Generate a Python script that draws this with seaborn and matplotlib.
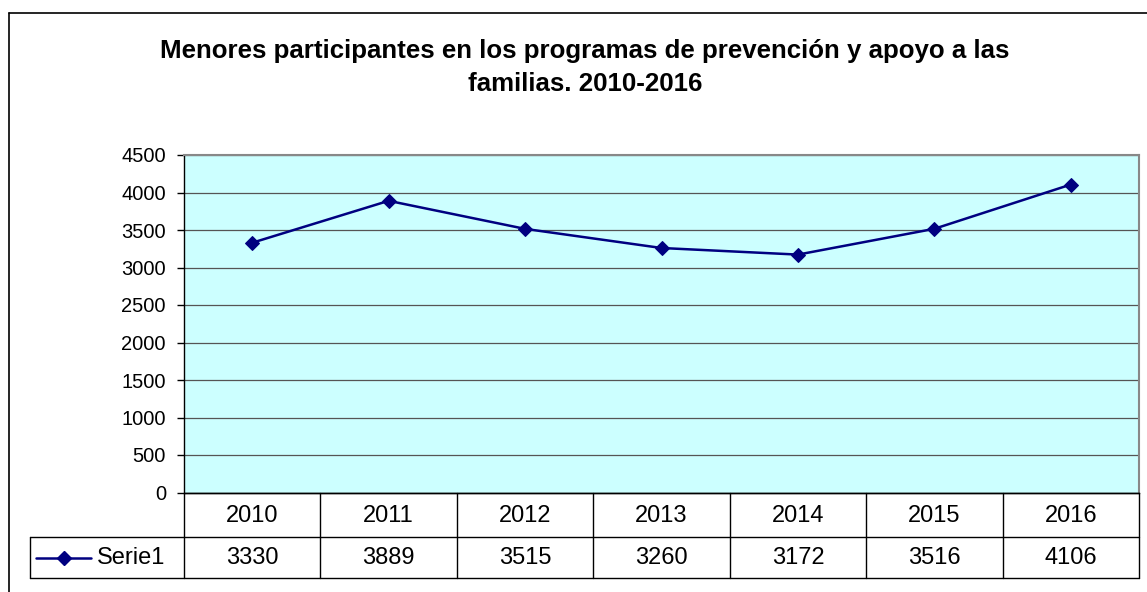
import matplotlib
matplotlib.use("Agg")
import matplotlib.pyplot as plt
from matplotlib.lines import Line2D
import seaborn as sns
import pandas as pd
import numpy as np

years = ["2010", "2011", "2012", "2013", "2014", "2015", "2016"]
serie1 = [3330, 3889, 3515, 3260, 3172, 3516, 4106]
series_name = "Serie1"
title_lines = ["Menores participantes en los programas de prevención y apoyo a las",
               "familias. 2010-2016"]
y_ticks = [0, 500, 1000, 1500, 2000, 2500, 3000, 3500, 4000, 4500]

sns.set_theme(style="white")
plt.rcParams["font.family"] = ["Liberation Sans", "DejaVu Sans"]

W, H = 1147, 592
fig = plt.figure(figsize=(W / 100, H / 100), dpi=100)

def fx(px):
    return px / W

def fy(py):
    return 1 - py / H

left, right, top, bottom = 184, 1139, 155, 492.5
ax = fig.add_axes([fx(left), fy(bottom), fx(right - left), (bottom - top) / H])
ax.set_facecolor("#CCFFFF")

df = pd.DataFrame({"year": years, "value": serie1})
sns.lineplot(data=df, x="year", y="value", ax=ax, color="#000080", linewidth=1.8,
             marker="D", markersize=7, markeredgecolor="#000080", sort=False)

ax.set_xlim(-0.5, len(years) - 0.5)
ax.set_ylim(0, 4500)
ax.set_yticks(y_ticks)
ax.set_xticks([])
ax.set_xlabel("")
ax.set_ylabel("")
ax.grid(axis="y", color="#555555", linewidth=0.9)
ax.set_axisbelow(True)
ax.tick_params(axis="y", which="both", left=True, length=5, width=1, color="black",
               labelsize=14.5, pad=8, direction="out")
for s in ["top", "right"]:
    ax.spines[s].set_color("#888888")
    ax.spines[s].set_linewidth(1.5)
ax.spines["left"].set_color("black")
ax.spines["left"].set_linewidth(1)
ax.spines["bottom"].set_color("black")
ax.spines["bottom"].set_linewidth(1)
for lbl in ax.get_yticklabels():
    lbl.set_color("black")

# Title (two lines)
for line, base in zip(title_lines, [57.7, 90.7]):
    fig.text(fx(585), fy(base), line, ha="center", va="baseline", fontsize=18.6,
             fontweight="bold", color="black")

# Outer chart border
fig.add_artist(Line2D([fx(9), fx(9)], [fy(13), fy(592)], color="black", lw=1.2))
fig.add_artist(Line2D([fx(9), fx(1147)], [fy(13), fy(13)], color="black", lw=1.2))

# Data table
row1_top, row_mid, row2_bot = 492.5, 537, 578
tab_left = 30
n = len(years)
colw = (right - left) / n
lc = "black"
lw = 1.0
fig.add_artist(Line2D([fx(left), fx(right)], [fy(row1_top), fy(row1_top)], color=lc, lw=lw))
fig.add_artist(Line2D([fx(tab_left), fx(right)], [fy(row_mid), fy(row_mid)], color=lc, lw=lw))
fig.add_artist(Line2D([fx(tab_left), fx(right)], [fy(row2_bot), fy(row2_bot)], color=lc, lw=lw))
fig.add_artist(Line2D([fx(tab_left), fx(tab_left)], [fy(row_mid), fy(row2_bot)], color=lc, lw=lw))
for i in range(n + 1):
    x = left + i * colw
    fig.add_artist(Line2D([fx(x), fx(x)], [fy(row1_top), fy(row2_bot)], color=lc, lw=lw))
for i, (yr, v) in enumerate(zip(years, serie1)):
    cx = left + (i + 0.5) * colw
    fig.text(fx(cx), fy((row1_top + row_mid) / 2 + 1), yr, ha="center", va="center",
             fontsize=17, color="black")
    fig.text(fx(cx), fy((row_mid + row2_bot) / 2 + 1), str(v), ha="center", va="center",
             fontsize=17, color="black")
# legend key in table
ky = fy((row_mid + row2_bot) / 2)
fig.add_artist(Line2D([fx(36), fx(63.5), fx(91)], [ky, ky, ky], color="#000080", lw=1.8,
                      marker="D", markersize=7, markevery=[1],
                      markerfacecolor="#000080", markeredgecolor="#000080"))
fig.text(fx(97), fy((row_mid + row2_bot) / 2 + 1), series_name, ha="left", va="center",
         fontsize=17, color="black")

fig.savefig("out.png", dpi=100, facecolor="white")
